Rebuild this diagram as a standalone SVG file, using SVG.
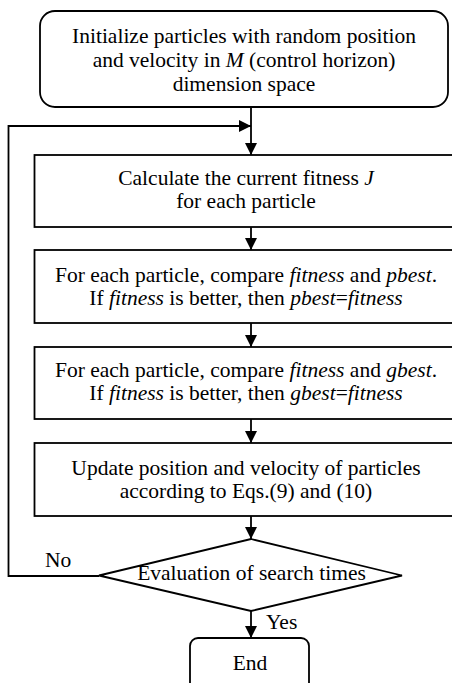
<svg xmlns="http://www.w3.org/2000/svg" width="452" height="683" viewBox="0 0 452 683" font-family="'Liberation Serif', serif">
<defs>
<marker id="ah" markerUnits="userSpaceOnUse" markerWidth="12" markerHeight="12" viewBox="0 0 12 12" refX="12" refY="6" orient="auto">
<path d="M0,0 L12,6 L0,12 Z" fill="#000"/>
</marker>
<style>
.box{fill:#fff;stroke:#000;stroke-width:1.8}
text{font-family:'Liberation Serif','Times New Roman',serif;font-size:21.5px;fill:#000}
.t{text-anchor:middle}
.i{font-style:italic}
.c{fill:none;stroke:#000;stroke-width:1.8}
</style>
</defs>
<rect width="452" height="683" fill="#fff"/>
<g id="connectors">
<line class="c" x1="251" y1="107" x2="251" y2="155" marker-end="url(#ah)"/>
<polyline class="c" points="99,576 8.5,576 8.5,126 251,126" marker-end="url(#ah)"/>
<line class="c" x1="251" y1="227" x2="251" y2="250" marker-end="url(#ah)"/>
<line class="c" x1="251" y1="323" x2="251" y2="347" marker-end="url(#ah)"/>
<line class="c" x1="251" y1="419" x2="251" y2="443" marker-end="url(#ah)"/>
<line class="c" x1="251" y1="516" x2="251" y2="539" marker-end="url(#ah)"/>
<line class="c" x1="251" y1="611" x2="251" y2="638" marker-end="url(#ah)"/>
<text x="45" y="567">No</text>
<text x="266" y="629">Yes</text>
</g>
<g id="init">
<rect class="box" x="40" y="11" width="408" height="96" rx="15"/>
<text class="t" x="244" y="42.7">Initialize particles with random position</text>
<text class="t" x="244" y="66.7">and velocity in <tspan class="i">M</tspan> (control horizon)</text>
<text class="t" x="244" y="91">dimension space</text>
</g>
<g id="fitness">
<rect class="box" x="34.5" y="155" width="425" height="72"/>
<text class="t" x="246" y="185">Calculate the current fitness <tspan class="i">J</tspan></text>
<text class="t" x="246" y="208">for each particle</text>
</g>
<g id="pbest">
<rect class="box" x="34.5" y="250" width="425" height="73"/>
<text class="t" x="246" y="281.7">For each particle, compare <tspan class="i">fitness</tspan> and <tspan class="i">pbest</tspan>.</text>
<text class="t" x="246" y="305">If <tspan class="i">fitness</tspan> is better, then <tspan class="i">pbest</tspan>=<tspan class="i">fitness</tspan></text>
</g>
<g id="gbest">
<rect class="box" x="34.5" y="347" width="425" height="72"/>
<text class="t" x="246" y="376.7">For each particle, compare <tspan class="i">fitness</tspan> and <tspan class="i">gbest</tspan>.</text>
<text class="t" x="246" y="400">If <tspan class="i">fitness</tspan> is better, then <tspan class="i">gbest</tspan>=<tspan class="i">fitness</tspan></text>
</g>
<g id="update">
<rect class="box" x="34.5" y="443" width="425" height="73"/>
<text class="t" x="246" y="475">Update position and velocity of particles</text>
<text class="t" x="246" y="498">according to Eqs.(9) and (10)</text>
</g>
<g id="decision">
<polygon class="box" points="251,539 402,575.5 251,611 99,575.5"/>
<text class="t" x="251.5" y="580">Evaluation of search times</text>
</g>
<g id="end">
<rect class="box" x="190" y="638" width="119" height="60" rx="8"/>
<text class="t" x="250" y="670">End</text>
</g>
</svg>
